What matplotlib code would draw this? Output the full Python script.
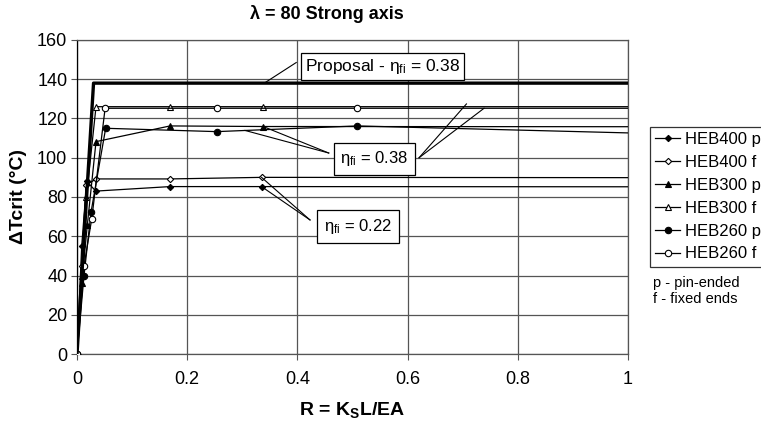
import numpy as np
import matplotlib.pyplot as plt

plt.rcParams['font.family'] = ['Liberation Sans', 'DejaVu Sans']
plt.rcParams['mathtext.fontset'] = 'custom'
plt.rcParams['mathtext.rm'] = 'Liberation Sans'
plt.rcParams['mathtext.it'] = 'Liberation Sans'
plt.rcParams['mathtext.bf'] = 'Liberation Sans:bold'

# data (last point of each series lies past R = 1 and is clipped)
proposal_x = [0, 0.03, 1.0]
proposal_y = [0, 138, 138]

heb400p_x = [0, 0.0085, 0.0176, 0.034, 0.169, 0.335, 1.69]
heb400p_y = [0, 55, 88, 83, 85.3, 85.3, 85.1]
heb400f_x = [0, 0.0085, 0.0163, 0.0345, 0.169, 0.335, 1.69]
heb400f_y = [0, 45, 86, 89.2, 89.2, 90, 89.7]
heb300p_x = [0, 0.0085, 0.0187, 0.0345, 0.169, 0.338, 1.69]
heb300p_y = [0, 36, 65.7, 108.2, 116.2, 115.9, 115.7]
heb300f_x = [0, 0.0085, 0.017, 0.0345, 0.169, 0.338, 1.69]
heb300f_y = [0, 40, 80, 126, 126, 126, 126]
heb260p_x = [0, 0.0127, 0.0254, 0.052, 0.2535, 0.509, 1.02]
heb260p_y = [0, 39.9, 72.2, 115, 113.3, 116.2, 112.5]
heb260f_x = [0, 0.0127, 0.0267, 0.051, 0.2535, 0.509, 1.02]
heb260f_y = [0, 45, 68.8, 125.2, 125.2, 125.2, 125.2]

series = [
    ('HEB400 p', heb400p_x, heb400p_y, 'D', 'black'),
    ('HEB400 f', heb400f_x, heb400f_y, 'D', 'white'),
    ('HEB300 p', heb300p_x, heb300p_y, '^', 'black'),
    ('HEB300 f', heb300f_x, heb300f_y, '^', 'white'),
    ('HEB260 p', heb260p_x, heb260p_y, 'o', 'black'),
    ('HEB260 f', heb260f_x, heb260f_y, 'o', 'white'),
]
msizes = {'D': 3.2, '^': 4.2, 'o': 4.6}

fig = plt.figure(figsize=(7.61, 4.25), dpi=100)
ax = fig.add_axes([0.1012, 0.167, 0.7238, 0.739])

handles = []
for name, x, y, m, fc in series:
    h, = ax.plot(x, y, color='black', lw=0.9, marker=m, ms=msizes[m],
                 mfc=fc, mec='black', mew=0.8, label=name, zorder=3)
    handles.append(h)

ax.plot(proposal_x, proposal_y, color='black', lw=2.4, zorder=4)

ax.set_xlim(0, 1)
ax.set_ylim(0, 160)
ax.set_xticks(np.arange(0, 1.01, 0.2))
ax.set_xticklabels(['0', '0.2', '0.4', '0.6', '0.8', '1'])
ax.set_yticks(np.arange(0, 161, 20))
ax.grid(True, color='#555555', lw=0.9)
ax.set_axisbelow(True)
for s in ax.spines.values():
    s.set_color('#555555')
    s.set_linewidth(0.9)
ax.spines['left'].set_color('black')
ax.tick_params(labelsize=13, length=4, width=0.8, color='#555555')
ax.tick_params(axis='x', pad=8)
ax.tick_params(axis='y', pad=3)

ax.set_xlabel(r'R = K$_\mathbf{S}$L/EA', fontsize=14, fontweight='bold', labelpad=9)
ax.set_ylabel('ΔTcrit (°C)', fontsize=14, fontweight='bold', labelpad=7)
fig.text(0.43, 0.967, 'λ = 80 Strong axis', fontsize=13, fontweight='bold', ha='center', va='center')

box = dict(boxstyle='square,pad=0.22', fc='white', ec='black', lw=0.9)

# Proposal label
ax.plot([0.398, 0.34], [148.5, proposal_y[1]], color='black', lw=0.8, zorder=5)
ax.text(0.414, 146.5, r'Proposal - $\mathregular{\eta_{fi}}$ = 0.38', fontsize=12.5,
        ha='left', va='center', bbox=box, zorder=6)

# eta = 0.38 label
ax.plot([0.457, heb300p_x[5]], [102.4, heb300p_y[5]], color='black', lw=0.8, zorder=5)
ax.plot([0.457, 0.305], [102.4, 113.9], color='black', lw=0.8, zorder=5)
ax.plot([0.621, 0.707], [100, 127.4], color='black', lw=0.8, zorder=5)
ax.plot([0.621, 0.739], [100, 125.2], color='black', lw=0.8, zorder=5)
ax.text(0.478, 99.4, r'$\mathregular{\eta_{fi}}$ = 0.38', fontsize=12,
        ha='left', va='center', bbox=dict(boxstyle='square,pad=0.4', fc='white', ec='black', lw=0.9), zorder=6)

# eta = 0.22 label
ax.plot([0.423, heb400f_x[5]], [68.3, heb400f_y[5]], color='black', lw=0.8, zorder=5)
ax.plot([0.423, heb400p_x[5]], [68.3, heb400p_y[5]], color='black', lw=0.8, zorder=5)
ax.text(0.448, 65, r'$\mathregular{\eta_{fi}}$ = 0.22', fontsize=12,
        ha='left', va='center', bbox=dict(boxstyle='square,pad=0.4', fc='white', ec='black', lw=0.9), zorder=6)

leg = fig.legend(handles=handles, loc='upper left', bbox_to_anchor=(650 / 761, 1 - 127 / 425),
                 fontsize=12, frameon=True, fancybox=False, edgecolor='black',
                 handlelength=1.5, handletextpad=0.3, borderpad=0.32, labelspacing=0.47,
                 borderaxespad=0)
leg.get_frame().set_linewidth(0.9)

fig.text(653 / 761, 1 - 283 / 425, 'p - pin-ended', fontsize=10.5, va='center')
fig.text(653 / 761, 1 - 299 / 425, 'f - fixed ends', fontsize=10.5, va='center')

fig.savefig('out.png', dpi=100)
